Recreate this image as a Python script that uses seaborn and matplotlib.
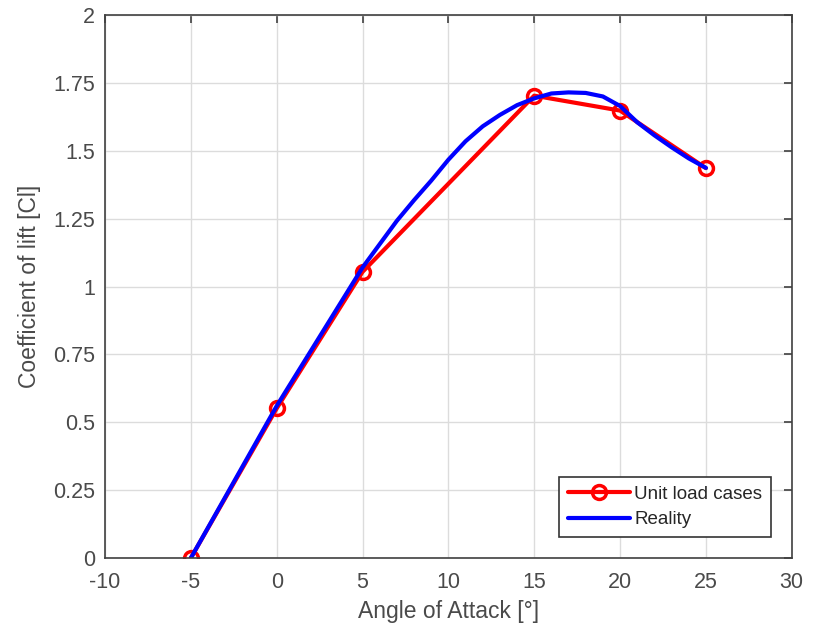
import numpy as np
import pandas as pd
import matplotlib
matplotlib.use('Agg')
import matplotlib.pyplot as plt
from matplotlib.ticker import FuncFormatter
import seaborn as sns

# unit load cases (markers)
unit_aoa = [-5, 0, 5, 15, 20, 25]
unit_cl = [0.0, 0.551, 1.054, 1.703, 1.648, 1.436]

# reality curve
real_aoa = [-5, -2.5, 0, 2.5, 5, 6, 7, 8, 9, 10, 11, 12, 13, 14, 15, 16, 17,
            18, 19, 20, 21, 22, 23, 24, 25]
real_cl = [0.0, 0.28, 0.56, 0.815, 1.07, 1.156, 1.242, 1.318, 1.39, 1.467,
           1.535, 1.59, 1.632, 1.668, 1.693, 1.711, 1.715, 1.713, 1.700,
           1.665, 1.605, 1.557, 1.513, 1.472, 1.437]

x_ticks = [-10, -5, 0, 5, 10, 15, 20, 25, 30]
y_ticks = [0, 0.25, 0.5, 0.75, 1, 1.25, 1.5, 1.75, 2]

sns.set_style('white')
plt.rcParams['font.family'] = ['Liberation Sans', 'DejaVu Sans']

df_unit = pd.DataFrame({'aoa': unit_aoa, 'cl': unit_cl})
df_real = pd.DataFrame({'aoa': real_aoa, 'cl': real_cl})

fig = plt.figure(figsize=(8.23, 6.26), dpi=100)
ax = fig.add_axes([0.1276, 0.1086, 0.8344, 0.8674])

sns.lineplot(data=df_unit, x='aoa', y='cl', ax=ax, color='#ff0000', lw=3,
             marker='o', markersize=10, markerfacecolor='none',
             markeredgecolor='#ff0000', markeredgewidth=2.5,
             label='Unit load cases', sort=False)
sns.lineplot(data=df_real, x='aoa', y='cl', ax=ax, color='#0000ff', lw=3,
             label='Reality', sort=False)

ax.set_xlim(-10, 30)
ax.set_ylim(0, 2)
ax.set_xticks(x_ticks)
ax.set_yticks(y_ticks)
ax.yaxis.set_major_formatter(FuncFormatter(lambda v, p: '%g' % v))
ax.xaxis.set_major_formatter(FuncFormatter(lambda v, p: '%g' % v))
ax.grid(True, color='#dcdcdc', lw=1)
ax.set_axisbelow(True)
for s in ax.spines.values():
    s.set_color('#404040')
    s.set_linewidth(1.2)
ax.tick_params(direction='in', length=6, width=1.2, color='#404040',
               labelcolor='#4a4a4a', labelsize=15.5, top=True, right=True,
               labeltop=False, labelright=False)
ax.tick_params(axis='x', pad=10)
ax.tick_params(axis='y', pad=7)

ax.set_xlabel('Angle of Attack [°]', fontsize=16.5, color='#4a4a4a', labelpad=5)
ax.set_ylabel('Coefficient of lift [Cl]', fontsize=16.5, color='#4a4a4a', labelpad=9)

leg = ax.legend(loc='lower right', bbox_to_anchor=(0.9694, 0.039), fontsize=13.5,
                frameon=True, fancybox=False, edgecolor='#333333',
                handlelength=3.3, handletextpad=0.25, borderpad=0.45,
                labelspacing=0.45, borderaxespad=0, framealpha=1)
leg.get_frame().set_linewidth(1.2)

fig.savefig('out.png', dpi=100, facecolor='white')
